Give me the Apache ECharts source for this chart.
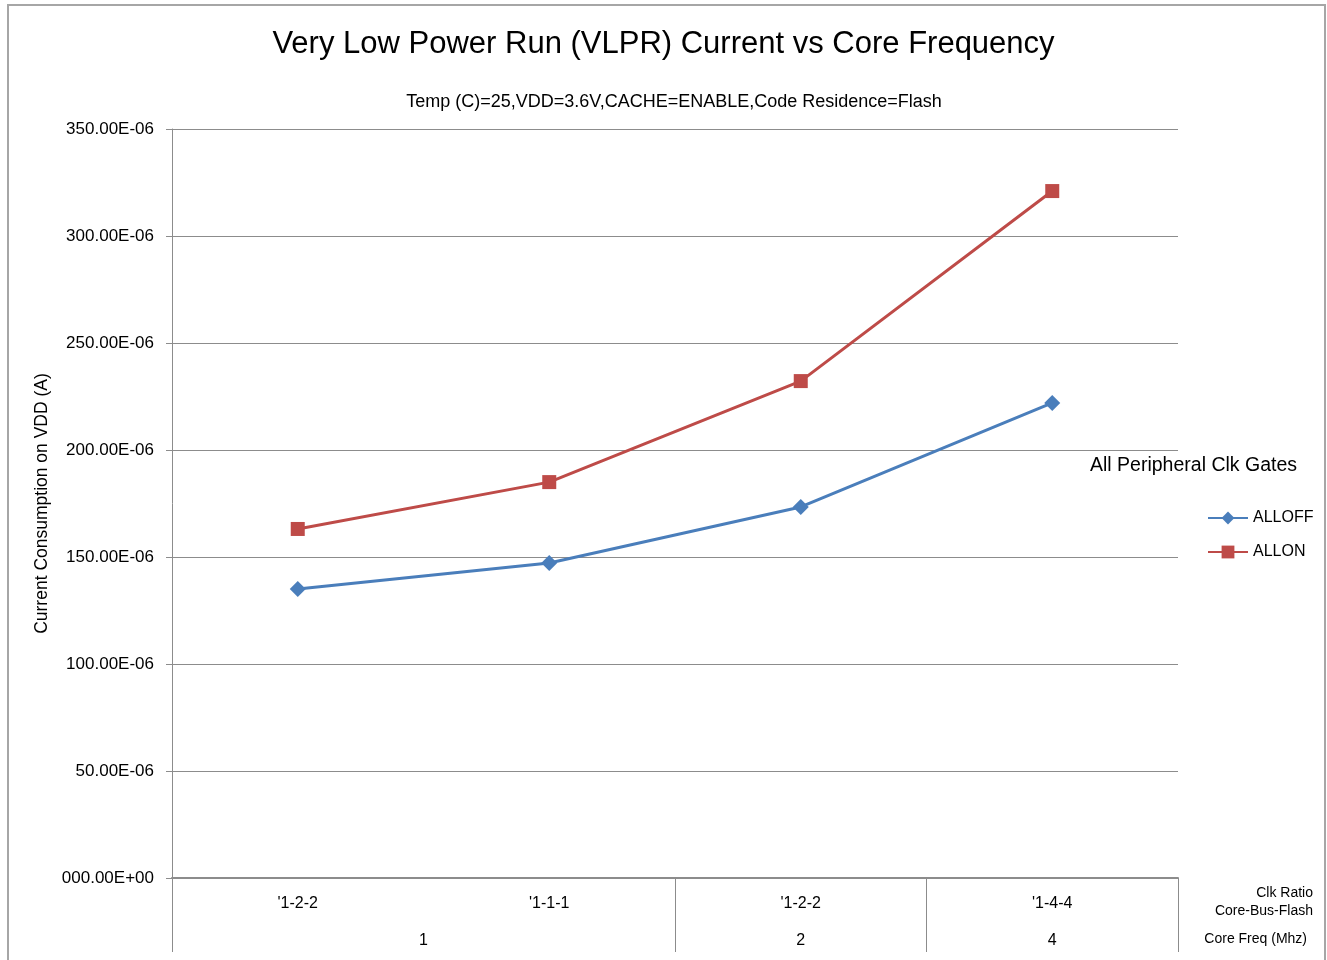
<!DOCTYPE html>
<html>
<head>
<meta charset="utf-8">
<script src="https://cdn.jsdelivr.net/npm/echarts@6/dist/echarts.min.js"></script>
<style>
html,body{margin:0;padding:0;background:#fff;}
#chart{width:1327px;height:960px;}
</style>
</head>
<body>
<div id="chart"></div>
<script>
// ---- data ----
var clkRatios = ["'1-2-2", "'1-1-1", "'1-2-2", "'1-4-4"];
var freqGroups = ['1', '2', '4'];
var freqGroupSpans = [2, 1, 1];
var allOff = [135.0, 147.2, 173.4, 222.0];   // µA
var allOn = [163.1, 185.0, 232.2, 321.0];    // µA
var yTickLabels = ['000.00E+00', '50.00E-06', '100.00E-06', '150.00E-06', '200.00E-06', '250.00E-06', '300.00E-06', '350.00E-06'];
var seriesNames = ['ALLOFF', 'ALLON'];

// group boundaries / centers in category-index units
var bounds = [-0.5];
var centers = [];
var acc = -0.5;
freqGroupSpans.forEach(function (s) { centers.push(acc + s / 2); acc += s; bounds.push(acc); });

var FONT = 'Liberation Sans';
var chart = echarts.init(document.getElementById('chart'));
chart.setOption({
  animation: false,
  backgroundColor: '#fff',
  textStyle: { fontFamily: FONT, color: '#000' },
  title: [{
    text: 'Very Low Power Run (VLPR) Current vs Core Frequency',
    left: 'center', top: 24,
    textStyle: { fontFamily: FONT, fontSize: 31, fontWeight: 'normal', color: '#000' }
  }, {
    text: 'Temp (C)=25,VDD=3.6V,CACHE=ENABLE,Code Residence=Flash',
    left: 669, top: 88, textAlign: 'center',
    textStyle: { fontFamily: FONT, fontSize: 18, fontWeight: 'normal', color: '#000' }
  }],
  legend: {
    orient: 'vertical', left: 1207, top: 510, padding: 0, itemWidth: 40, itemHeight: 16, itemGap: 18,
    textStyle: { fontFamily: FONT, fontSize: 16, color: '#000' },
    data: seriesNames
  },
  grid: { left: 172, right: 149, top: 129, bottom: 82, containLabel: false },
  xAxis: [{
    type: 'category', data: clkRatios, boundaryGap: true,
    axisLine: { lineStyle: { color: '#8c8c8c', width: 2 } },
    axisTick: { show: false },
    axisLabel: { fontFamily: FONT, fontSize: 16, color: '#000', margin: 18 }
  }, {
    type: 'value', position: 'bottom', min: -0.5, max: clkRatios.length - 0.5,
    axisLine: { show: false }, splitLine: { show: false },
    axisTick: { show: true, customValues: bounds, length: 74, lineStyle: { color: '#8c8c8c', width: 1 } },
    axisLabel: {
      customValues: centers, fontFamily: FONT, fontSize: 16, color: '#000', margin: 55,
      formatter: function (v) {
        for (var i = 0; i < centers.length; i++) if (Math.abs(centers[i] - v) < 1e-6) return freqGroups[i];
        return '';
      }
    }
  }],
  yAxis: {
    type: 'value', min: 0, max: 350, interval: 50,
    name: 'Current Consumption on VDD (A)', nameLocation: 'middle', nameGap: 118,
    nameTextStyle: { fontFamily: FONT, fontSize: 17.5, color: '#000' },
    axisLine: { show: true, onZero: false, lineStyle: { color: '#8c8c8c', width: 1 } },
    axisTick: { show: true, length: 6, lineStyle: { color: '#8c8c8c' } },
    splitLine: { lineStyle: { color: '#8c8c8c', width: 1 } },
    axisLabel: {
      fontFamily: FONT, fontSize: 17, color: '#000', margin: 18,
      formatter: function (v) { return yTickLabels[Math.round(v / 50)]; }
    }
  },
  series: [{
    name: seriesNames[0], type: 'line', data: allOff, xAxisIndex: 0,
    symbol: 'diamond', symbolSize: 16,
    lineStyle: { color: '#4A7EBB', width: 3 },
    itemStyle: { color: '#4A7EBB' }
  }, {
    name: seriesNames[1], type: 'line', data: allOn, xAxisIndex: 0,
    symbol: 'rect', symbolSize: 14,
    lineStyle: { color: '#BE4B48', width: 3 },
    itemStyle: { color: '#BE4B48' }
  }],
  graphic: [
    { type: 'rect', shape: { x: 8, y: 5, width: 1317, height: 980 }, style: { fill: 'none', stroke: '#a6a6a6', lineWidth: 2 }, silent: true },
    { type: 'text', x: 1297, y: 466, style: { text: 'All Peripheral Clk Gates', font: '19.5px ' + FONT, fill: '#000', align: 'right', verticalAlign: 'middle' } },
    { type: 'text', x: 1313, y: 893, style: { text: 'Clk Ratio', font: '14px ' + FONT, fill: '#000', align: 'right', verticalAlign: 'middle' } },
    { type: 'text', x: 1313, y: 911, style: { text: 'Core-Bus-Flash', font: '14px ' + FONT, fill: '#000', align: 'right', verticalAlign: 'middle' } },
    { type: 'text', x: 1307, y: 939, style: { text: 'Core Freq (Mhz)', font: '14px ' + FONT, fill: '#000', align: 'right', verticalAlign: 'middle' } }
  ]
});
</script>
</body>
</html>
